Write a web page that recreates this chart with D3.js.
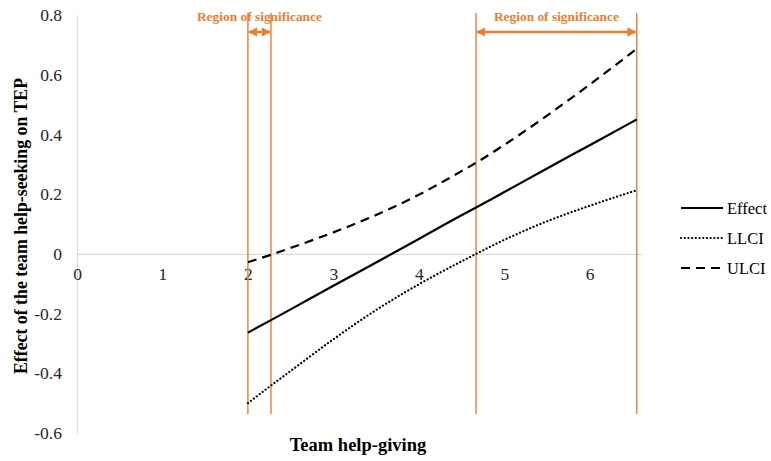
<!DOCTYPE html>
<html>
<head>
<meta charset="utf-8">
<script src="https://cdn.jsdelivr.net/npm/d3@7"></script>
<style>
  html, body { margin: 0; padding: 0; background: #fff; }
  svg { display: block; font-family: "Liberation Serif", "Times New Roman", serif; }
</style>
</head>
<body>
<svg id="chart" width="771" height="461"></svg>
<script>
// Johnson-Neyman plot: conditional effect of team help-seeking on TEP
const moderator = [2.0, 2.27, 2.5, 3.0, 3.5, 4.0, 4.5, 4.67, 5.0, 5.5, 6.0, 6.55];
const effect    = [-0.264, -0.222, -0.186, -0.107, -0.029, 0.050, 0.129, 0.155, 0.207, 0.286, 0.364, 0.450];
const llci      = [-0.500, -0.441, -0.392, -0.286, -0.188, -0.102, -0.025, 0.000, 0.047, 0.109, 0.161, 0.213];
const ulci      = [-0.028, -0.003, 0.020, 0.072, 0.130, 0.198, 0.277, 0.305, 0.365, 0.463, 0.567, 0.687];

const xTicks = [0, 1, 2, 3, 4, 5, 6];
const yTicks = [-0.6, -0.4, -0.2, 0, 0.2, 0.4, 0.6, 0.8];
const yTickLabels = ["-0.6", "-0.4", "-0.2", "0", "0.2", "0.4", "0.6", "0.8"];
const xDomain = [0, 6.6];
const yDomain = [-0.6, 0.8];

// Regions of significance (bounds on the moderator)
const regions = [[2.0, 2.27], [4.67, 6.55]];
const regionLabel = "Region of significance";

const seriesNames = ["Effect", "LLCI", "ULCI"];
const seriesData = [effect, llci, ulci];

const svg = d3.select("#chart");
const orange = "#ED7D31";
const serif = "Liberation Serif, Times New Roman, serif";

const x = d3.scaleLinear().domain(xDomain).range([77, 641]);
const y = d3.scaleLinear().domain(yDomain).range([433, 15]);

// arrow markers
const defs = svg.append("defs");
defs.append("marker")
  .attr("id", "arr")
  .attr("viewBox", "0 0 10 10")
  .attr("refX", 9).attr("refY", 5)
  .attr("markerWidth", 3.6).attr("markerHeight", 3.6)
  .attr("markerUnits", "strokeWidth")
  .attr("orient", "auto-start-reverse")
  .append("path")
  .attr("d", "M0,0 L10,5 L0,10 Z")
  .attr("fill", orange);

// y axis line (vertical, gray)
const yAxis = d3.axisLeft(y).tickValues(yTicks).tickSize(0).tickPadding(15)
  .tickFormat((d, i) => yTickLabels[i]);
const gy = svg.append("g").attr("transform", `translate(${x(0)},0)`).call(yAxis);
gy.attr("font-family", serif);
gy.select(".domain").attr("stroke", "#D9D9D9").attr("stroke-width", 1.3);
gy.selectAll("text").attr("font-size", 17.5).attr("fill", "#262626");

// horizontal zero line with category labels below it
const xAxis = d3.axisBottom(x).tickValues(xTicks).tickSize(0).tickPadding(14)
  .tickFormat(d3.format("d"));
const gx = svg.append("g").attr("transform", `translate(0,${y(0)})`).call(xAxis);
gx.attr("font-family", serif);
gx.select(".domain").attr("stroke", "#D9D9D9").attr("stroke-width", 1.3);
gx.selectAll("text").attr("font-size", 17.5).attr("fill", "#262626");

// region boundaries
const bounds = regions.flat();
svg.append("g").selectAll("line").data(bounds).join("line")
  .attr("x1", d => x(d)).attr("x2", d => x(d))
  .attr("y1", 13).attr("y2", 414)
  .attr("stroke", orange).attr("stroke-width", 1.4);

// region arrows and labels
regions.forEach(r => {
  svg.append("line")
    .attr("x1", x(r[0]) + 1).attr("x2", x(r[1]) - 1)
    .attr("y1", 32).attr("y2", 32)
    .attr("stroke", orange).attr("stroke-width", 2.6)
    .attr("marker-start", "url(#arr)")
    .attr("marker-end", "url(#arr)");
  svg.append("text")
    .attr("x", (x(r[0]) + x(r[1])) / 2).attr("y", 21)
    .attr("text-anchor", "middle")
    .attr("font-size", 13.4).attr("font-weight", "bold")
    .attr("font-family", serif)
    .attr("fill", orange)
    .text(regionLabel);
});

// series lines
const styles = [
  { dash: null, width: 2.2, cap: "butt" },
  { dash: "0.1,3.6", width: 2.2, cap: "round" },
  { dash: "9,6", width: 2.2, cap: "butt" }
];
const line = d3.line().curve(d3.curveMonotoneX);
seriesData.forEach((vals, i) => {
  svg.append("path")
    .attr("d", line(moderator.map((m, j) => [x(m), y(vals[j])])))
    .attr("fill", "none").attr("stroke", "#000")
    .attr("stroke-width", styles[i].width)
    .attr("stroke-linecap", styles[i].cap)
    .attr("stroke-dasharray", styles[i].dash);
});

// legend
const lg = svg.append("g").attr("transform", "translate(681,208)");
seriesNames.forEach((name, i) => {
  const g = lg.append("g").attr("transform", `translate(0,${i * 30})`);
  g.append("line").attr("x1", 0).attr("x2", 42).attr("y1", 0).attr("y2", 0)
    .attr("stroke", "#000").attr("stroke-width", styles[i].width)
    .attr("stroke-linecap", styles[i].cap)
    .attr("stroke-dasharray", styles[i].dash);
  g.append("text").attr("x", 46).attr("y", 6)
    .attr("font-size", 16.5).attr("font-family", serif)
    .attr("fill", "#000").text(name);
});

// axis titles
svg.append("text")
  .attr("x", 358).attr("y", 451)
  .attr("text-anchor", "middle")
  .attr("font-size", 18.5).attr("font-weight", "bold")
  .attr("font-family", serif)
  .text("Team help-giving");

svg.append("text")
  .attr("transform", "translate(27,226) rotate(-90)")
  .attr("text-anchor", "middle")
  .attr("font-size", 17.8).attr("font-weight", "bold")
  .attr("font-family", serif)
  .text("Effect of the team help-seeking on TEP");
</script>
</body>
</html>
